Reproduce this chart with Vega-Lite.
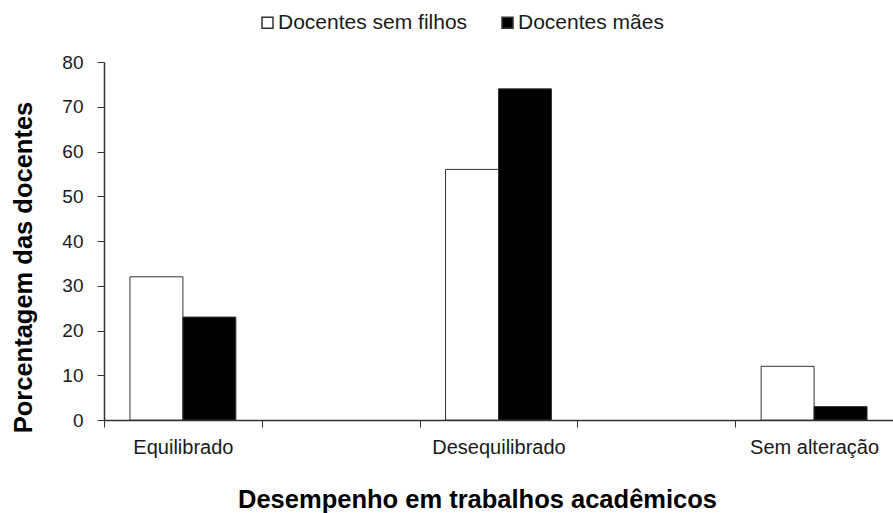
{
  "$schema": "https://vega.github.io/schema/vega-lite/v6.json",
  "autosize": "none",
  "width": 789,
  "height": 358,
  "padding": {"left": 104, "top": 62, "right": 0, "bottom": 93},
  "config": {
    "view": {"stroke": null},
    "font": "Liberation Sans"
  },
  "data": {
    "values": [
      {"categoria": "Equilibrado", "grupo": "Docentes sem filhos", "pct": 32},
      {"categoria": "Equilibrado", "grupo": "Docentes mães", "pct": 23},
      {"categoria": "Desequilibrado", "grupo": "Docentes sem filhos", "pct": 56},
      {"categoria": "Desequilibrado", "grupo": "Docentes mães", "pct": 74},
      {"categoria": "Sem alteração", "grupo": "Docentes sem filhos", "pct": 12},
      {"categoria": "Sem alteração", "grupo": "Docentes mães", "pct": 3}
    ]
  },
  "mark": {"type": "bar", "stroke": "#333333", "strokeWidth": 1},
  "encoding": {
    "x": {
      "field": "categoria",
      "type": "nominal",
      "scale": {"domain": ["Equilibrado", " ", "Desequilibrado", "  ", "Sem alteração"], "paddingInner": 0, "paddingOuter": 0},
      "axis": {
        "title": "Desempenho em trabalhos acadêmicos",
        "titleFont": "Liberation Sans",
        "titleFontSize": 25.5,
        "titleFontWeight": "bold",
        "titleColor": "#000000",
        "titleX": 373,
        "titleY": 87,
        "titleAlign": "center",
        "titleBaseline": "alphabetic",
        "labelAngle": 0,
        "labelFontSize": 20,
        "labelColor": "#1a1a1a",
        "labelPadding": 10,
        "tickBand": "extent",
        "tickSize": 7,
        "tickColor": "#333333",
        "domainColor": "#333333",
        "domainWidth": 1.5,
        "grid": false
      }
    },
    "xOffset": {
      "field": "grupo",
      "type": "nominal",
      "scale": {"domain": ["Docentes sem filhos", "Docentes mães"], "paddingInner": 0, "paddingOuter": 0.49}
    },
    "y": {
      "field": "pct",
      "type": "quantitative",
      "scale": {"domain": [0, 80], "nice": false},
      "axis": {
        "title": "Porcentagem das docentes",
        "titleFontSize": 25.5,
        "titleFontWeight": "bold",
        "titleColor": "#000000",
        "titleAngle": -90,
        "titleX": -73,
        "titleY": 205,
        "titleAlign": "center",
        "titleBaseline": "alphabetic",
        "values": [0, 10, 20, 30, 40, 50, 60, 70, 80],
        "labelFontSize": 19,
        "labelColor": "#1a1a1a",
        "labelPadding": 14,
        "tickSize": 7,
        "tickColor": "#333333",
        "domainColor": "#333333",
        "domainWidth": 1.5,
        "grid": false
      }
    },
    "fill": {
      "field": "grupo",
      "type": "nominal",
      "scale": {"domain": ["Docentes sem filhos", "Docentes mães"], "range": ["#ffffff", "#000000"]},
      "legend": {
        "title": null,
        "orient": "none",
        "direction": "horizontal",
        "legendX": 153,
        "legendY": -50,
        "padding": 0,
        "symbolType": "square",
        "symbolSize": 121,
        "symbolStrokeColor": "#333333",
        "symbolStrokeWidth": 1.5,
        "labelFontSize": 21,
        "labelLimit": 400,
        "labelColor": "#1a1a1a",
        "labelOffset": 0,
        "columnPadding": 29
      }
    }
  }
}
